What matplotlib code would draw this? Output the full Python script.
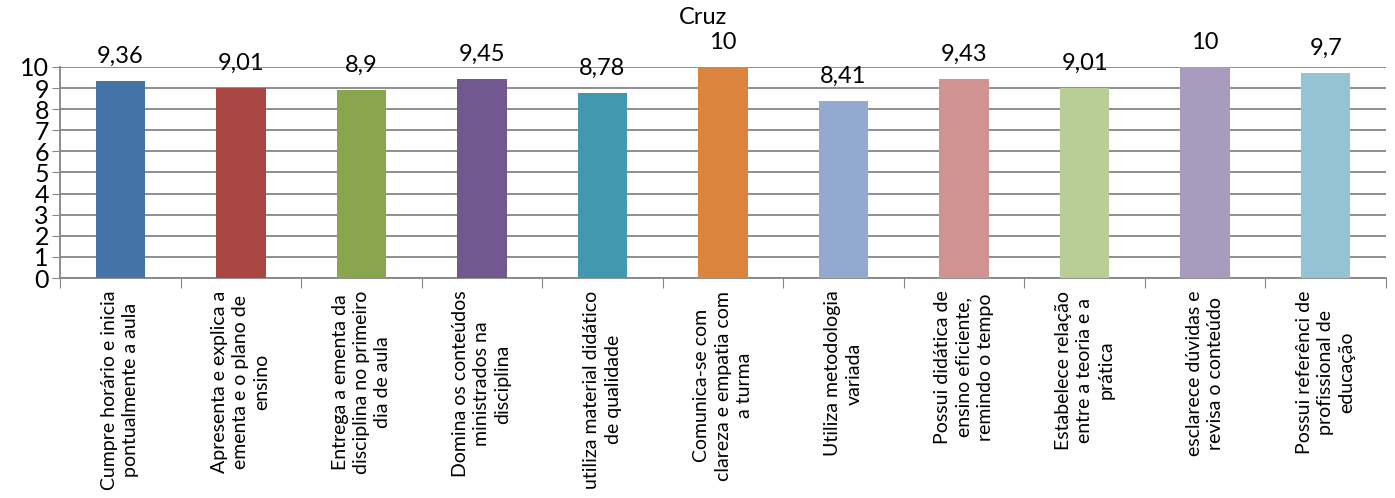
import matplotlib
matplotlib.use("Agg")
import matplotlib.pyplot as plt
import numpy as np

plt.rcParams['font.family'] = ['Lato', 'DejaVu Sans']

# Dados do gráfico
categorias = [
    "Cumpre horário e inicia\npontualmente a aula",
    "Apresenta e explica a\nementa e o plano de\nensino",
    "Entrega a ementa da\ndisciplina no primeiro\ndia de aula",
    "Domina os conteúdos\nministrados na\ndisciplina",
    "utiliza material didático\nde qualidade",
    "Comunica-se com\nclareza e empatia com\na turma",
    "Utiliza metodologia\nvariada",
    "Possui didática de\nensino eficiente,\nremindo o tempo",
    "Estabelece relação\nentre a teoria e a\nprática",
    "esclarece dúvidas e\nrevisa o conteúdo",
    "Possui referênci de\nprofissional de\neducação",
]
notas = [9.36, 9.01, 8.9, 9.45, 8.78, 10, 8.41, 9.43, 9.01, 10, 9.7]
rotulos = ["9,36", "9,01", "8,9", "9,45", "8,78", "10", "8,41", "9,43", "9,01", "10", "9,7"]
cores = ["#4572A7", "#AA4643", "#89A54E", "#71588F", "#4198AF", "#DB843D",
         "#93A9CF", "#D19392", "#B9CD96", "#A99BBD", "#93C3D5"]

fig = plt.figure(figsize=(13.95, 4.98), dpi=100)
ax = fig.add_axes([60 / 1395, 1 - 278 / 498, 1326 / 1395, 211 / 498])

x = np.arange(len(notas))
ax.bar(x, notas, width=0.41, color=cores, zorder=3)

for xi, v, r in zip(x, notas, rotulos):
    ax.annotate(r, (xi, v), xytext=(0, 13), textcoords='offset points',
                ha='center', va='baseline', fontsize=17)

ax.set_xlim(-0.5, len(notas) - 0.5)
ax.set_ylim(0, 10)
ax.set_yticks(range(0, 11))
ax.tick_params(axis='y', labelsize=18, length=6, color='#868686', pad=2)
ax.yaxis.grid(True, color='#868686', linewidth=1.3, zorder=0)

# marcas do eixo x nas divisas das categorias
ax.set_xticks(np.arange(len(notas) + 1) - 0.5)
ax.set_xticklabels([])
ax.tick_params(axis='x', length=7, color='#868686')
for xi, c in zip(x, categorias):
    ax.text(xi, -0.6, c, rotation=90, ha='center', va='top',
            multialignment='center', fontsize=14, linespacing=1.3,
            transform=ax.transData)

for s in ['top', 'right']:
    ax.spines[s].set_visible(False)
for s in ['left', 'bottom']:
    ax.spines[s].set_color('#868686')
    ax.spines[s].set_linewidth(1.3)

fig.text(0.504, 0.985, "Cruz", ha='center', va='top', fontsize=17)

fig.savefig("out.png", dpi=100)
